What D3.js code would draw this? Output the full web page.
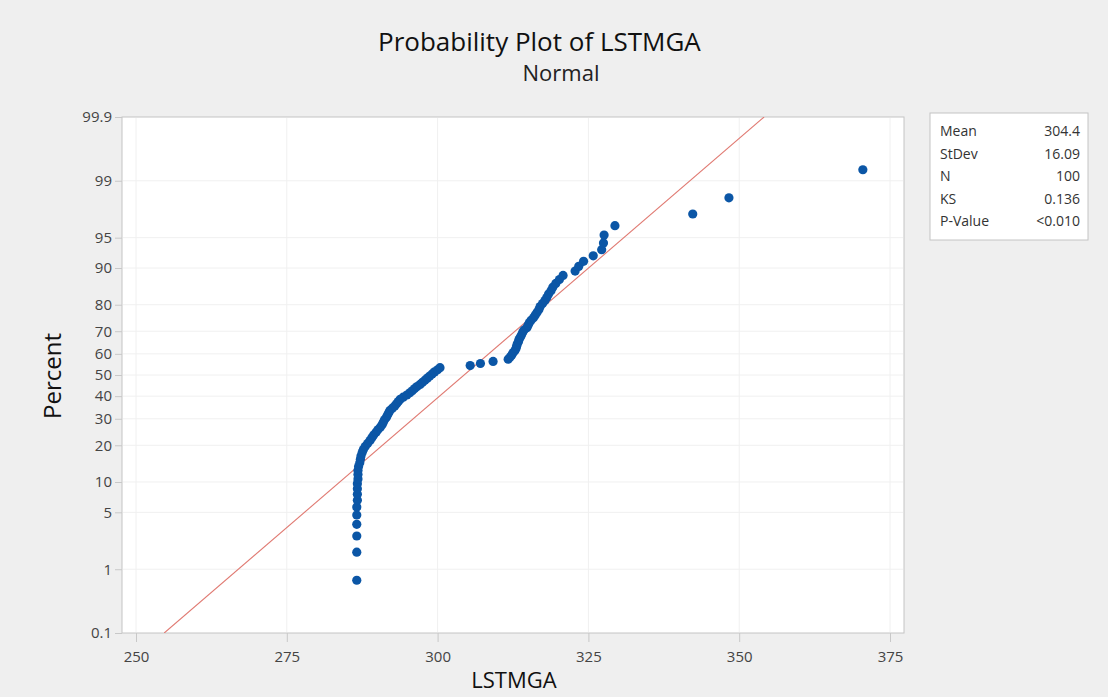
<!DOCTYPE html>
<html><head><meta charset="utf-8">
<script src="https://cdn.jsdelivr.net/npm/d3@7"></script>
<style>
body{margin:0;background:#efefef;}
text{font-family:"Open Sans","Noto Sans",sans-serif;}
</style>
</head><body>
<svg id="chart" width="1108" height="697"></svg>
<script>
const lstmga = [
  286.6,286.6,286.6,286.6,286.6,286.6,286.7,286.7,286.7,286.7,286.8,286.8,286.8,286.9,
  287.1,287.2,287.3,287.5,287.7,288.0,288.4,288.8,289.1,289.4,289.8,290.1,290.5,290.8,291.0,
  291.2,291.5,291.7,291.9,292.1,292.5,292.9,293.2,293.5,293.8,294.3,294.9,295.4,295.8,296.2,
  296.6,297.1,297.5,297.9,298.3,298.7,299.1,299.5,300.0,300.4,
  305.4,307.1,309.2,
  311.7,312.0,312.3,312.5,312.8,313.0,313.1,313.2,313.4,313.5,313.7,313.9,314.1,314.3,314.8,
  315.0,315.2,315.5,315.9,316.2,316.5,316.8,317.0,317.4,317.8,318.1,318.4,318.8,319.1,319.6,
  320.2,320.8,
  322.8,323.4,324.2,325.8,327.2,327.5,327.6,329.4,342.3,348.3,370.5
];
const percentTicks = [0.1,1,5,10,20,30,40,50,60,70,80,90,95,99,99.9];
const xTicks = [250,275,300,325,350,375];
const statLabels = ["Mean","StDev","N","KS","P-Value"];
const statValues = ["304.4","16.09","100","0.136","<0.010"];
const fitMean = 304.4, fitSd = 16.09;

// inverse normal CDF (Acklam)
function probit(p){
  const a=[-3.969683028665376e+01,2.209460984245205e+02,-2.759285104469687e+02,1.383577518672690e+02,-3.066479806614716e+01,2.506628277459239e+00];
  const b=[-5.447609879822406e+01,1.615858368580409e+02,-1.556989798598866e+02,6.680131188771972e+01,-1.328068155288572e+01];
  const c=[-7.784894002430293e-03,-3.223964580411365e-01,-2.400758277161838e+00,-2.549732539343734e+00,4.374664141464968e+00,2.938163982698783e+00];
  const d=[7.784695709041462e-03,3.224671290700398e-01,2.445134137142996e+00,3.754408661907416e+00];
  const pl=0.02425, ph=1-pl; let q,r;
  if(p<pl){q=Math.sqrt(-2*Math.log(p));return (((((c[0]*q+c[1])*q+c[2])*q+c[3])*q+c[4])*q+c[5])/((((d[0]*q+d[1])*q+d[2])*q+d[3])*q+1);}
  if(p<=ph){q=p-0.5;r=q*q;return (((((a[0]*r+a[1])*r+a[2])*r+a[3])*r+a[4])*r+a[5])*q/(((((b[0]*r+b[1])*r+b[2])*r+b[3])*r+b[4])*r+1);}
  q=Math.sqrt(-2*Math.log(1-p));return -(((((c[0]*q+c[1])*q+c[2])*q+c[3])*q+c[4])*q+c[5])/((((d[0]*q+d[1])*q+d[2])*q+d[3])*q+1);
}

const svg = d3.select("#chart");
const L=122, R=904, T=117, B=633;
const px = (R-L-28)/125;
const x = d3.scaleLinear().domain([250-14/px, 375+14/px]).range([L,R]);
const zMax = probit(0.999);
const y = d3.scaleLinear().domain([-zMax, zMax]).range([B,T]);

svg.append("rect").attr("width",1108).attr("height",697).attr("fill","#efefef");

// plot area
svg.append("rect").attr("x",L).attr("y",T).attr("width",R-L).attr("height",B-T)
  .attr("fill","#fff").attr("stroke","#c4c4c4");

// gridlines
const zTicks = percentTicks.map(p=>probit(p/100));
svg.append("g").selectAll("line").data(xTicks).join("line")
  .attr("x1",d=>x(d)).attr("x2",d=>x(d)).attr("y1",T+1).attr("y2",B-1)
  .attr("stroke","#f0f0f0");
svg.append("g").selectAll("line").data(zTicks.slice(1,-1)).join("line")
  .attr("x1",L+1).attr("x2",R-1).attr("y1",d=>y(d)).attr("y2",d=>y(d))
  .attr("stroke","#f0f0f0");

// axes
const yAxis = svg.append("g").attr("transform",`translate(${L},0)`)
  .call(d3.axisLeft(y).tickValues(zTicks).tickFormat((d,i)=>String(percentTicks[i])).tickSize(7).tickPadding(3));
const xAxis = svg.append("g").attr("transform",`translate(0,${B})`)
  .call(d3.axisBottom(x).tickValues(xTicks).tickSize(9).tickPadding(9));
[yAxis,xAxis].forEach(g=>{
  g.select(".domain").remove();
  g.selectAll(".tick line").attr("stroke","#c8c8c8");
  g.selectAll(".tick text").attr("fill","#444").style("font-size","15px")
   .style("font-family","'Open Sans','Noto Sans',sans-serif");
});

// clip
svg.append("clipPath").attr("id","clip").append("rect")
  .attr("x",L).attr("y",T).attr("width",R-L).attr("height",B-T);

// fitted line
const zs = [-zMax, zMax];
svg.append("line").attr("clip-path","url(#clip)")
  .attr("x1",x(fitMean+fitSd*zs[0])).attr("y1",y(zs[0]))
  .attr("x2",x(fitMean+fitSd*zs[1])).attr("y2",y(zs[1]))
  .attr("stroke","#e07a72").attr("stroke-width",1.1);

// points
const n = lstmga.length;
svg.append("g").selectAll("circle").data(lstmga).join("circle")
  .attr("cx",d=>x(d)).attr("cy",(d,i)=>y(probit((i+1-0.3)/(n+0.4))))
  .attr("r",4.6).attr("fill","#0b56a6");

// titles
svg.append("text").attr("x",378).attr("y",51)
  .style("font-size","26px").attr("fill","#111").text("Probability Plot of LSTMGA");
svg.append("text").attr("x",561).attr("y",81).attr("text-anchor","middle")
  .style("font-size","22px").attr("fill","#222").text("Normal");
svg.append("text").attr("x",514).attr("y",688).attr("text-anchor","middle")
  .style("font-size","22px").style("font-weight","500").attr("fill","#111").text("LSTMGA");
svg.append("text").attr("transform","translate(61,376) rotate(-90)").attr("text-anchor","middle")
  .style("font-size","24px").style("font-weight","500").attr("fill","#111").text("Percent");

// legend box
const lg = svg.append("g");
lg.append("rect").attr("x",930).attr("y",113).attr("width",158).attr("height",127)
  .attr("fill","#fff").attr("stroke","#c4c4c4");
statLabels.forEach((s,i)=>{
  lg.append("text").attr("x",940).attr("y",136+i*22.5).style("font-size","14px").attr("fill","#333").text(s);
  lg.append("text").attr("x",1080).attr("y",136+i*22.5).attr("text-anchor","end").style("font-size","14px").attr("fill","#333").text(statValues[i]);
});
</script>
</body></html>
